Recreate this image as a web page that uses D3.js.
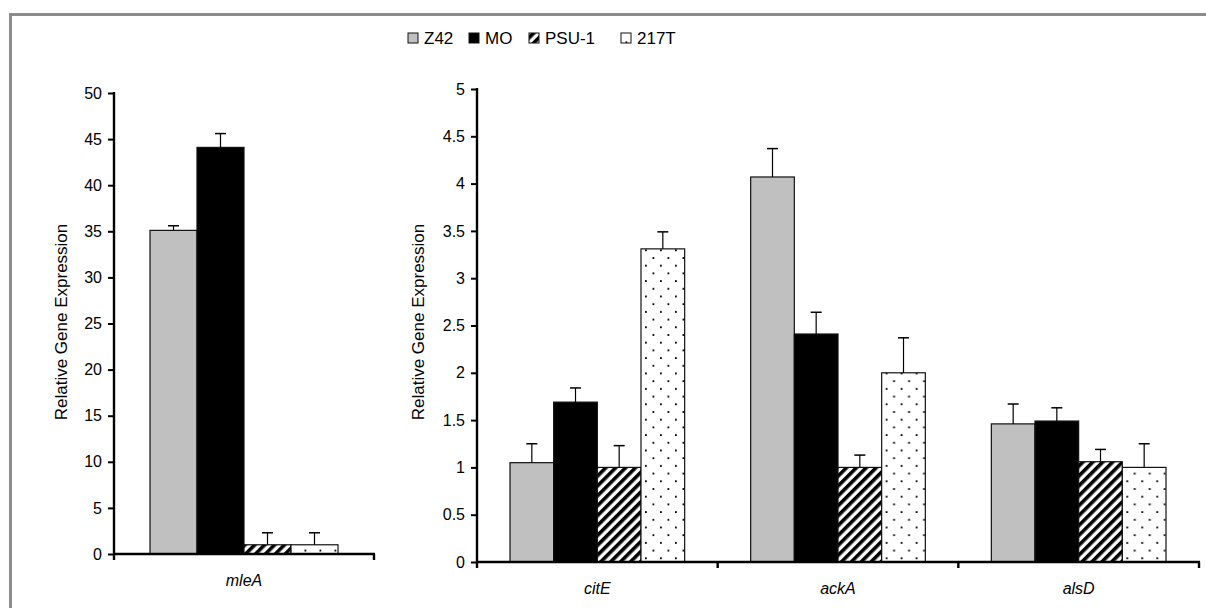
<!DOCTYPE html>
<html>
<head>
<meta charset="utf-8">
<script src="https://cdn.jsdelivr.net/npm/d3@7"></script>
<style>
  body { margin: 0; background: #fff; }
  svg { display: block; font-family: "Liberation Sans", Arial, sans-serif; }
</style>
</head>
<body>
<div id="chart"></div>
<script>
// Data
const strains = ["Z42", "MO", "PSU-1", "217T"];
const genesLeft = ["mleA"];
const genesRight = ["citE", "ackA", "alsD"];

// mean values per strain, genes in order mleA, citE, ackA, alsD
const z42Mean = [35.1, 1.05, 4.07, 1.46];
const moMean = [44.1, 1.69, 2.41, 1.49];
const psuMean = [1.0, 1.0, 1.0, 1.06];
const t217Mean = [1.0, 3.31, 2.0, 1.0];

// error bar (upper) sizes
const z42Err = [0.5, 0.2, 0.3, 0.21];
const moErr = [1.5, 0.15, 0.23, 0.14];
const psuErr = [1.3, 0.23, 0.13, 0.13];
const t217Err = [1.3, 0.18, 0.37, 0.25];

const leftTicks = [0, 5, 10, 15, 20, 25, 30, 35, 40, 45, 50];
const rightTicks = [0, 0.5, 1, 1.5, 2, 2.5, 3, 3.5, 4, 4.5, 5];

const allGenes = genesLeft.concat(genesRight);
const means = [z42Mean, moMean, psuMean, t217Mean];
const errs = [z42Err, moErr, psuErr, t217Err];

function rowsFor(gene) {
    const gi = allGenes.indexOf(gene);
    return strains.map((s, i) => ({ gene: gene, strain: s, value: means[i][gi], err: errs[i][gi] }));
}

const W = 1206, H = 608;
const svg = d3.select("#chart").append("svg")
    .attr("width", W).attr("height", H);

svg.append("rect").attr("width", W).attr("height", H).attr("fill", "#fff");

// patterns
const defs = svg.append("defs");
const hatch = defs.append("pattern")
    .attr("id", "hatch")
    .attr("patternUnits", "userSpaceOnUse")
    .attr("width", 7).attr("height", 7)
    .attr("patternTransform", "rotate(45)");
hatch.append("rect").attr("width", 7).attr("height", 7).attr("fill", "#fff");
hatch.append("rect").attr("width", 3.6).attr("height", 7).attr("fill", "#000");

const dots = defs.append("pattern")
    .attr("id", "dots")
    .attr("patternUnits", "userSpaceOnUse")
    .attr("width", 15).attr("height", 15.4);
dots.append("rect").attr("width", 15).attr("height", 15.4).attr("fill", "#fff");
dots.append("rect").attr("x", 3).attr("y", 3).attr("width", 1.8).attr("height", 1.8).attr("fill", "#000");
dots.append("rect").attr("x", 10.5).attr("y", 10.7).attr("width", 1.8).attr("height", 1.8).attr("fill", "#000");

const fill = d3.scaleOrdinal()
    .domain(strains)
    .range(["#c0c0c0", "#000000", "url(#hatch)", "url(#dots)"]);

// outer frame (top + left visible)
svg.append("path")
    .attr("d", `M10.5,${H} V14.5 H${W}`)
    .attr("fill", "none")
    .attr("stroke", "#8c8c8c")
    .attr("stroke-width", 3);

function drawPanel(cfg) {
    const g = svg.append("g");

    const y = d3.scaleLinear().domain([0, cfg.yMax]).range([cfg.yBase, cfg.yTop]);
    const x = d3.scaleBand().domain(cfg.genes).range([cfg.x0, cfg.x1]).padding(0);

    const inner = d3.scaleBand().domain(strains)
        .range([cfg.pad, x.bandwidth() - cfg.pad]).padding(0);

    // bars
    cfg.genes.forEach(gene => {
        const gg = g.append("g").attr("transform", `translate(${x(gene)},0)`);
        const rows = rowsFor(gene);

        gg.selectAll("rect.bar")
            .data(rows)
            .join("rect")
            .attr("class", "bar")
            .attr("x", d => inner(d.strain))
            .attr("y", d => y(d.value))
            .attr("width", inner.bandwidth())
            .attr("height", d => cfg.yBase - y(d.value))
            .attr("fill", d => fill(d.strain))
            .attr("stroke", "#111")
            .attr("stroke-width", 1.2);

        // error bars
        gg.selectAll("line.err")
            .data(rows)
            .join("line")
            .attr("class", "err")
            .attr("x1", d => inner(d.strain) + inner.bandwidth() / 2)
            .attr("x2", d => inner(d.strain) + inner.bandwidth() / 2)
            .attr("y1", d => y(d.value))
            .attr("y2", d => y(d.value + d.err))
            .attr("stroke", "#000").attr("stroke-width", 1.2);
        gg.selectAll("line.cap")
            .data(rows)
            .join("line")
            .attr("class", "cap")
            .attr("x1", d => inner(d.strain) + inner.bandwidth() / 2 - 5.5)
            .attr("x2", d => inner(d.strain) + inner.bandwidth() / 2 + 5.5)
            .attr("y1", d => y(d.value + d.err))
            .attr("y2", d => y(d.value + d.err))
            .attr("stroke", "#000").attr("stroke-width", 1.5);
    });

    // y axis
    const yAxis = g.append("g")
        .attr("transform", `translate(${cfg.x0},0)`)
        .call(d3.axisLeft(y).tickValues(cfg.ticks).tickSize(6).tickPadding(6)
            .tickFormat(d => String(+d.toFixed(1))));
    yAxis.select(".domain").remove();
    yAxis.selectAll(".tick line").attr("stroke", "#000").attr("stroke-width", 2);
    yAxis.selectAll(".tick text")
        .attr("fill", "#000")
        .style("font-size", "16px")
        .style("font-family", "Liberation Sans, Arial, sans-serif");
    g.append("line")
        .attr("x1", cfg.x0).attr("x2", cfg.x0)
        .attr("y1", cfg.yTop - 1).attr("y2", cfg.yBase + 6)
        .attr("stroke", "#000").attr("stroke-width", 2.4);

    // x axis
    g.append("line")
        .attr("x1", cfg.x0).attr("x2", cfg.x1 + 1)
        .attr("y1", cfg.yBase).attr("y2", cfg.yBase)
        .attr("stroke", "#000").attr("stroke-width", 2.4);
    const bounds = cfg.genes.map(gn => x(gn) + x.bandwidth());
    g.selectAll("line.xt")
        .data(bounds)
        .join("line")
        .attr("class", "xt")
        .attr("x1", d => d).attr("x2", d => d)
        .attr("y1", cfg.yBase).attr("y2", cfg.yBase + 6)
        .attr("stroke", "#000").attr("stroke-width", 2.4);

    g.selectAll("text.cat")
        .data(cfg.genes)
        .join("text")
        .attr("class", "cat")
        .attr("x", d => x(d) + x.bandwidth() / 2)
        .attr("y", cfg.yBase + 32)
        .attr("text-anchor", "middle")
        .style("font-size", "16px")
        .style("font-style", "italic")
        .text(d => d);

    // y title
    g.append("text")
        .attr("transform", `translate(${cfg.titleX},${cfg.titleY}) rotate(-90)`)
        .attr("text-anchor", "middle")
        .style("font-size", "17px")
        .text("Relative Gene Expression");
}

drawPanel({ genes: genesLeft, x0: 114, x1: 374, yTop: 93, yBase: 554, yMax: 50,
    ticks: leftTicks, pad: 36, titleX: 67, titleY: 322 });
drawPanel({ genes: genesRight, x0: 477, x1: 1199, yTop: 89, yBase: 562, yMax: 5,
    ticks: rightTicks, pad: 33, titleX: 424, titleY: 322 });

// legend
const legendX = [408, 469, 529, 621];
const legend = svg.append("g");
strains.forEach((s, i) => {
    legend.append("rect")
        .attr("x", legendX[i]).attr("y", 33)
        .attr("width", 10).attr("height", 10)
        .attr("fill", fill(s))
        .attr("stroke", "#111").attr("stroke-width", 1);
    legend.append("text")
        .attr("x", legendX[i] + 16).attr("y", 44)
        .style("font-size", "17px")
        .text(s);
});
</script>
</body>
</html>
